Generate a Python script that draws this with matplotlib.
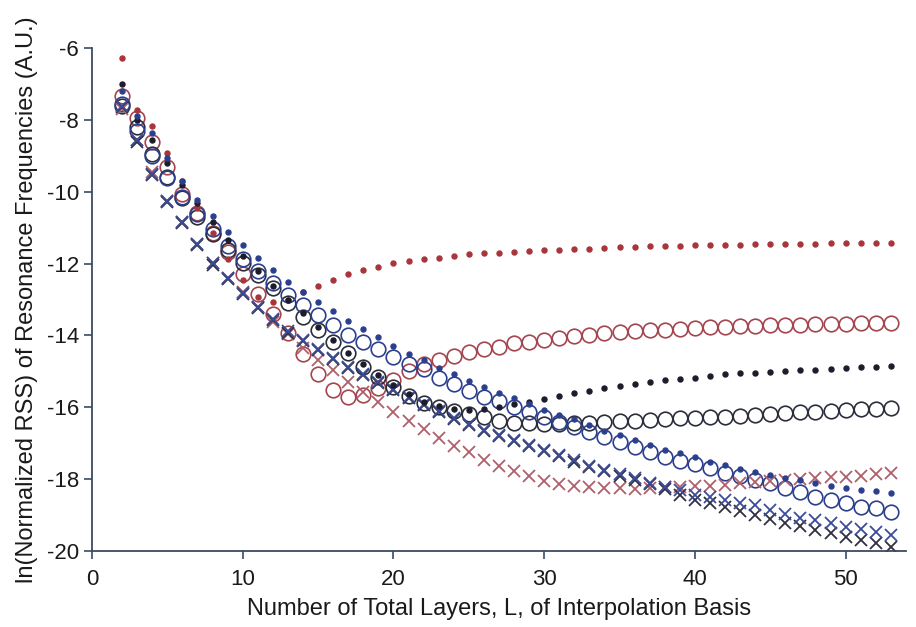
import matplotlib
matplotlib.use("Agg")
import matplotlib.pyplot as plt

plt.rcParams['font.family'] = ['Liberation Sans', 'DejaVu Sans']
plt.rcParams['axes.unicode_minus'] = False

# number of total layers L
layers = list(range(2, 54))

# ln(normalized RSS), one list per method / basis
red_dot = [-6.27, -7.73, -8.17, -8.93, -9.70, -10.45, -11.16, -11.87, -12.46, -12.92,
           -13.08, -13.00, -12.80, -12.62, -12.45, -12.29, -12.19, -12.10, -11.99, -11.93,
           -11.88, -11.85, -11.79, -11.74, -11.71, -11.70, -11.67, -11.65, -11.63, -11.61,
           -11.60, -11.58, -11.56, -11.55, -11.53, -11.52, -11.51, -11.50, -11.48, -11.48,
           -11.48, -11.47, -11.46, -11.46, -11.45, -11.45, -11.45, -11.44, -11.44, -11.44,
           -11.44, -11.43]
black_dot = [-7.01, -8.00, -8.55, -9.20, -9.81, -10.32, -10.83, -11.34, -11.80, -12.22,
             -12.62, -13.00, -13.38, -13.76, -14.13, -14.48, -14.80, -15.10, -15.38, -15.63,
             -15.84, -15.96, -16.06, -16.08, -16.05, -15.98, -15.92, -15.85, -15.76, -15.68,
             -15.61, -15.54, -15.47, -15.41, -15.35, -15.30, -15.24, -15.21, -15.18, -15.12,
             -15.08, -15.05, -15.04, -15.01, -14.99, -14.97, -14.95, -14.93, -14.92, -14.89,
             -14.87, -14.85]
blue_dot = [-7.20, -7.89, -8.37, -9.07, -9.69, -10.23, -10.68, -11.11, -11.48, -11.85,
            -12.19, -12.50, -12.80, -13.07, -13.32, -13.59, -13.82, -14.05, -14.29, -14.52,
            -14.68, -14.90, -15.07, -15.26, -15.43, -15.59, -15.75, -15.90, -16.07, -16.21,
            -16.33, -16.49, -16.65, -16.77, -16.91, -17.05, -17.19, -17.28, -17.38, -17.51,
            -17.61, -17.72, -17.79, -17.88, -17.96, -18.02, -18.10, -18.19, -18.25, -18.30,
            -18.33, -18.38]

red_circle = [-7.33, -7.96, -8.61, -9.30, -10.05, -10.58, -11.16, -11.69, -12.30, -12.86,
              -13.39, -13.94, -14.52, -15.07, -15.52, -15.70, -15.66, -15.47, -15.24, -15.00,
              -14.80, -14.68, -14.56, -14.47, -14.39, -14.31, -14.22, -14.17, -14.13, -14.08,
              -14.02, -13.99, -13.94, -13.91, -13.88, -13.86, -13.84, -13.82, -13.80, -13.77,
              -13.76, -13.74, -13.73, -13.72, -13.71, -13.70, -13.69, -13.68, -13.67, -13.66,
              -13.66, -13.65]
black_circle = [-7.62, -8.20, -8.95, -9.58, -10.18, -10.70, -11.18, -11.62, -11.99, -12.32,
                -12.69, -13.09, -13.48, -13.85, -14.17, -14.50, -14.87, -15.15, -15.43, -15.68,
                -15.89, -16.00, -16.09, -16.18, -16.28, -16.37, -16.43, -16.45, -16.46, -16.46,
                -16.45, -16.43, -16.41, -16.39, -16.37, -16.35, -16.33, -16.31, -16.29, -16.28,
                -16.26, -16.24, -16.21, -16.19, -16.17, -16.14, -16.12, -16.10, -16.08, -16.06,
                -16.04, -16.02]
blue_circle = [-7.55, -8.30, -9.00, -9.63, -10.15, -10.62, -11.05, -11.50, -11.88, -12.22,
               -12.55, -12.88, -13.15, -13.43, -13.71, -13.99, -14.17, -14.38, -14.59, -14.80,
               -14.93, -15.19, -15.36, -15.55, -15.70, -15.83, -15.99, -16.14, -16.28, -16.40,
               -16.54, -16.68, -16.82, -16.96, -17.10, -17.24, -17.38, -17.49, -17.58, -17.70,
               -17.84, -17.91, -18.02, -18.12, -18.25, -18.35, -18.49, -18.58, -18.67, -18.77,
               -18.81, -18.91]

red_cross = [-7.70, -8.55, -9.45, -10.25, -10.85, -11.45, -11.98, -12.40, -12.80, -13.20,
             -13.63, -13.95, -14.35, -14.68, -14.96, -15.29, -15.58, -15.84, -16.12, -16.37,
             -16.61, -16.86, -17.07, -17.25, -17.46, -17.63, -17.77, -17.92, -18.05, -18.14,
             -18.20, -18.23, -18.25, -18.26, -18.28, -18.26, -18.23, -18.21, -18.20, -18.18,
             -18.15, -18.12, -18.08, -18.06, -18.03, -18.00, -17.97, -17.95, -17.93, -17.90,
             -17.87, -17.84]
black_cross = [-7.65, -8.61, -9.54, -10.28, -10.88, -11.48, -12.03, -12.43, -12.86, -13.23,
               -13.57, -13.92, -14.15, -14.41, -14.66, -14.92, -15.10, -15.33, -15.52, -15.75,
               -15.94, -16.12, -16.32, -16.50, -16.65, -16.79, -16.93, -17.07, -17.21, -17.36,
               -17.51, -17.65, -17.77, -17.90, -18.02, -18.14, -18.28, -18.44, -18.58, -18.67,
               -18.77, -18.88, -19.00, -19.12, -19.22, -19.30, -19.42, -19.51, -19.62, -19.70,
               -19.79, -19.88]
blue_cross = [-7.62, -8.57, -9.50, -10.25, -10.85, -11.45, -11.99, -12.40, -12.83, -13.20,
              -13.54, -13.89, -14.12, -14.38, -14.63, -14.88, -15.07, -15.30, -15.49, -15.72,
              -15.91, -16.09, -16.29, -16.47, -16.62, -16.76, -16.90, -17.04, -17.18, -17.33,
              -17.48, -17.62, -17.74, -17.86, -17.98, -18.10, -18.22, -18.30, -18.44, -18.49,
              -18.58, -18.66, -18.72, -18.86, -18.98, -19.07, -19.14, -19.23, -19.32, -19.40,
              -19.47, -19.56]

red = '#a8353c'
black = '#1c1c2a'
blue = '#2c3f8e'

fig = plt.figure(figsize=(9.16, 6.27), dpi=100)
ax = fig.add_axes([0.1004, 0.1212, 0.8886, 0.8022])

# open circles
for ys, c in [(red_circle, '#a4444e'), (black_circle, '#2a2e3a'), (blue_circle, blue)]:
    ax.plot(layers, ys, 'o', ms=10.5, mfc='none', mec=c, mew=1.2, ls='none')

# crosses
for ys, c in [(red_cross, '#b0606a'), (black_cross, '#303040'), (blue_cross, '#3a4c9a')]:
    ax.plot(layers, ys, 'x', ms=8, mec=c, mew=1.3, ls='none')

# dots
for ys, c in [(red_dot, red), (black_dot, black), (blue_dot, blue)]:
    ax.plot(layers, ys, 'o', ms=3.6, mfc=c, mec=c, ls='none')

ax.set_xlim(0, 54)
ax.set_ylim(-20, -6)
ax.set_xticks([0, 10, 20, 30, 40, 50])
ax.set_yticks([-6, -8, -10, -12, -14, -16, -18, -20])

for s in ['top', 'right']:
    ax.spines[s].set_visible(False)
for s in ['left', 'bottom']:
    ax.spines[s].set_color('#3b4a66')
    ax.spines[s].set_linewidth(1.3)

ax.tick_params(axis='both', direction='out', length=6, width=1.2,
               color='#3b4a66', labelsize=16, labelcolor='#1a1a1a')
ax.tick_params(axis='x', pad=7)

ax.set_xlabel('Number of Total Layers, L, of Interpolation Basis',
              fontsize=17, color='#1a1a1a', labelpad=6)
ax.set_ylabel('ln(Normalized RSS) of Resonance Frequencies (A.U.)',
              fontsize=17, color='#1a1a1a', labelpad=6)

fig.savefig('out.png', dpi=100)
